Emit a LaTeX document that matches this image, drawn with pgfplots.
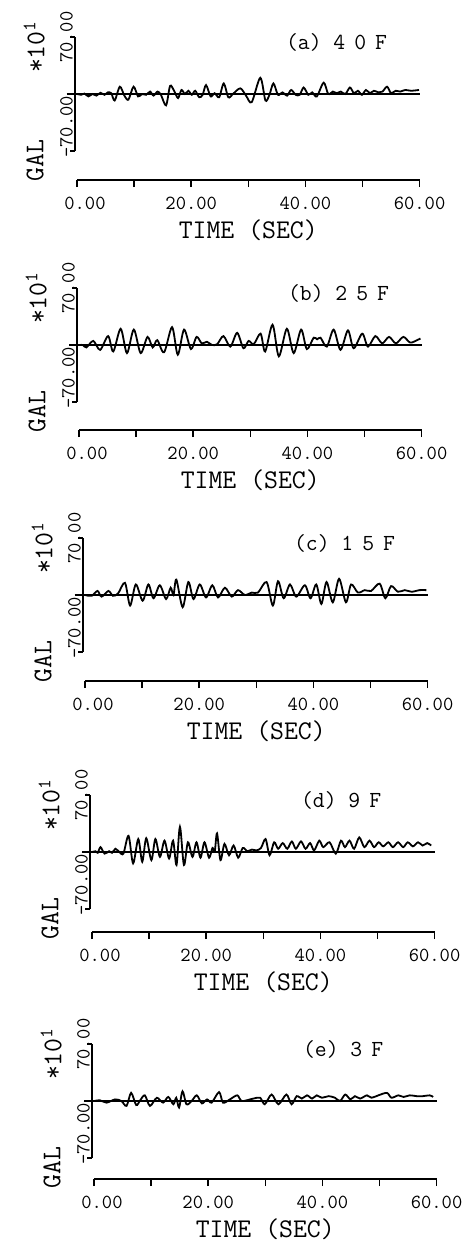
\documentclass[border=0pt]{standalone}
\usepackage{fontspec}
\usepackage{pgfplots}
\pgfplotsset{compat=1.18}

\newcommand\tickf{\ttfamily\fontsize{20}{22}\selectfont\addfontfeature{FakeBold=1.5}}
\newcommand\labf{\ttfamily\fontsize{27}{29}\selectfont\addfontfeature{FakeBold=0.8}}
\newcommand\ttlf{\ttfamily\fontsize{23}{25}\selectfont\addfontfeature{FakeBold=1.5}}

\pgfplotsset{
  sig/.style={anchor=origin, x=5.71pt, y=0.811pt,
    xmin=-0.35, xmax=60, ymin=-70, ymax=70,
    axis y line=left, axis x line=none,
    axis line style={-, line width=1.5pt},
    ytick={-70,70}, yticklabels={,}, ytick align=outside,
    major tick length=5pt, tick style={line width=1.5pt, black},
    clip=false},
  tax/.style={anchor=origin, x=5.71pt, y=10pt,
    xmin=0, xmax=60, ymin=0, ymax=1,
    axis x line=bottom, hide y axis,
    axis line style={-, line width=1.5pt},
    xtick={0,10,...,60},
    xticklabels={\hspace*{16pt}0.00,,20.00,,40.00,,60.00},
    xtick align=outside, major tick length=7pt,
    tick style={line width=1.5pt, black},
    xticklabel style={font=\tickf, yshift=-6pt},
    xlabel={TIME (SEC)}, xlabel style={font=\labf, yshift=-4pt}},
}

% #1 x of t=0, #2 y of zero line, #3 y of time axis, #4 title, #5 record
\newcommand\panel[5]{%
  \begin{axis}[sig, at={(#1pt,-#2pt)}]
    \addplot[black, line width=1.4pt] coordinates {(-1.75,0) (60,0)};
    \addplot[black, line width=1.8pt, smooth, tension=0.5] coordinates {#5};
    \node[rotate=90, anchor=south, inner sep=2pt, font=\tickf] at (axis cs:-0.35,70) {70.00};
    \node[rotate=90, anchor=south, inner sep=2pt, font=\tickf] at (axis cs:-0.35,-40.4) {-70.00};
    \node[rotate=90, font=\labf] at (axis cs:-7.5,58) {*10\textsuperscript{1}};
    \node[rotate=90, font=\labf] at (axis cs:-7.35,-82.3) {GAL};
    \node[anchor=west, font=\ttlf] at (axis cs:36,64) {#4};
  \end{axis}
  \begin{axis}[tax, at={(#1pt,-#3pt)}]
    \addplot[draw=none] coordinates {(0,0)};
  \end{axis}%
}

\begin{document}
\begin{tikzpicture}
\useasboundingbox (0,0) rectangle (468pt,-1243pt);

\panel{77}{94}{180}{(a) 4\kern9pt0\kern9pt F}{
(-1.75,0) (0,0) (0.7,-1) (1.3,0.5) (2.0,-3) (2.7,0) (3.4,-2) (4.1,1.5) (4.8,-1) (5.4,2)
(6.0,1) (6.6,-8) (7.5,9) (8.3,-2) (9.0,-7) (9.9,9) (10.7,-3) (11.4,0) (12.1,-1) (12.8,3)
(13.4,-2) (14.1,3) (14.7,-1) (15.6,-14) (16.3,10) (17.0,4) (17.7,-5) (18.3,5) (18.9,0) (19.5,4)
(20.1,-1) (20.7,4) (21.4,-4) (22.0,-1) (22.6,11) (23.4,-3) (24.1,1) (24.9,-4) (25.7,13) (26.5,-4)
(27.3,0) (28.6,7) (29.6,-2) (30.6,-10) (32.1,20) (33.0,-8) (33.7,-1) (34.4,13) (35.2,-1) (36.0,2)
(36.8,-2) (37.5,5) (38.3,-1) (39.0,-1) (39.7,8) (40.5,-1) (41.2,2) (42.0,-3) (43.2,14) (44.0,0)
(44.8,3) (45.5,1) (46.2,3) (47.0,0) (47.8,8) (48.5,1) (49.2,4) (49.9,-1) (50.6,5) (51.3,1)
(52.0,4) (52.8,2) (53.5,3) (54.3,9) (55.0,1) (55.8,4) (56.6,3) (57.5,5) (58.5,4) (59.9,5)}

\panel{79}{345}{430}{(b) 2\kern9pt5\kern9pt F}{
(-1.75,0) (0,0) (0.7,0) (1.3,-3) (2.5,5) (3.7,-6) (5.1,11) (6.0,-8) (7.3,20) (8.4,-10)
(9.6,19) (10.8,-10) (12.0,10) (12.9,-3) (13.7,6) (14.9,-9) (16.3,22) (17.3,-12) (18.4,19) (19.6,-5)
(20.6,10) (21.5,2) (22.4,4) (23.3,0) (24.2,1) (25.3,11) (26.5,-2) (27.7,15) (28.8,-4) (29.7,5)
(30.6,1) (31.8,14) (32.6,-8) (33.9,25) (35.0,-14) (36.4,20) (37.6,-10) (38.9,19) (39.9,-5) (41.1,9)
(41.7,7) (42.3,9) (43.4,-2) (44.6,19) (45.8,-6) (47.1,18) (48.1,-4) (49.6,14) (50.6,-2) (51.9,11)
(53.1,2) (54.3,10) (55.5,2) (56.8,10) (58.0,3) (59.2,6) (59.8,8)}

\panel{85}{595}{681}{(c) 1\kern9pt5\kern9pt F}{
(-1.75,0) (0,0) (0.6,-1) (1.2,-1) (2.2,5) (2.9,-2) (4.1,5) (4.9,-1) (5.8,2) (7.0,15)
(7.9,-13) (8.9,13) (10.1,-7) (11.1,13) (12.0,-4) (13.1,12) (14.2,-5) (15.0,9) (15.5,0) (16.0,19)
(17.1,-15) (18.1,16) (19.0,-5) (20.1,13) (21.2,-3) (22.3,12) (23.3,-3) (24.5,9) (25.7,-2) (26.8,6)
(28.0,0) (29.2,3) (30.3,3) (31.8,16) (32.9,-13) (33.8,17) (34.8,-4) (35.9,13) (37.0,-2) (38.5,12)
(39.5,-4) (40.5,13) (41.4,-11) (42.3,16) (43.4,-9) (44.5,20) (45.7,-9) (46.6,13) (47.8,3) (49.0,6)
(50.1,5) (51.6,14) (52.6,-4) (53.6,11) (54.8,4) (56.0,6) (57.2,4) (58.6,6) (59.8,6)}

\panel{92}{852}{932}{(d) 9\kern9pt F}{
(-1.75,0) (0,0) (0.6,1) (1.0,-1) (1.5,6) (2.2,-2) (3.0,1) (3.5,-1) (4.1,4) (4.8,0)
(5.5,-2) (6.4,20) (7.2,-14) (8.1,16) (8.8,-12) (9.5,17) (10.4,-10) (11.1,16) (11.9,-6) (12.7,14)
(13.5,-8) (14.2,14) (14.8,-16) (15.4,31) (16.1,-16) (16.8,12) (17.6,-6) (18.3,12) (19.0,-7) (19.7,12)
(20.5,-7) (21.1,5) (21.5,1) (21.9,23) (22.5,-10) (23.2,10) (24.0,-4) (24.8,8) (25.6,-7) (26.4,5)
(27.2,1) (28.0,3) (28.8,2) (29.6,5) (30.4,16) (31.1,-4) (31.9,12) (32.6,4) (33.4,11) (34.2,4)
(35.0,13) (35.7,4) (36.6,13) (37.4,4) (38.2,11) (38.9,2) (39.8,14) (40.5,6) (41.6,12) (42.7,-2)
(43.6,14) (44.3,6) (45.1,14) (45.9,4) (46.8,18) (47.7,6) (48.6,14) (49.4,6) (50.2,12) (51.0,7)
(51.9,12) (52.7,6) (53.6,12) (54.5,6) (55.3,12) (56.2,7) (57.1,12) (57.9,8) (58.7,11) (59.4,8)}

\panel{94}{1101}{1179}{(e) 3\kern9pt F}{
(-1.75,0) (0,0) (1.0,1) (2.2,-2) (3.7,2) (4.8,0) (5.7,-6) (6.5,10) (7.4,-5) (8.1,1)
(8.9,7) (9.8,-6) (11.0,4) (12.1,-2) (13.0,5) (13.9,-4) (14.4,4) (14.9,-8) (15.5,12) (16.2,-4)
(17.1,0) (18.0,7) (18.9,-3) (19.8,2) (20.6,-2) (21.9,11) (22.6,-2) (23.8,2) (25.1,7) (25.9,0)
(27.9,3) (29.1,4) (29.9,-4) (31.1,8) (32.3,-4) (33.7,8) (34.6,-4) (35.5,6) (36.4,3) (37.3,7)
(38.2,3) (39.0,7) (39.9,4) (41.1,6) (42.2,4) (43.1,0) (44.0,8) (44.9,2) (45.7,6) (46.6,3)
(47.8,7) (48.6,4) (49.8,7) (51.3,10) (52.1,4) (53.3,7) (54.2,5) (55.3,7) (56.5,6) (57.6,6)
(58.8,7) (59.4,5)}

\end{tikzpicture}
\end{document}
